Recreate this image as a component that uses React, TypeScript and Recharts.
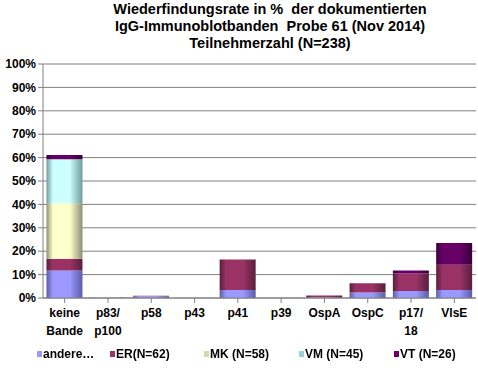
import React from 'react';
import { BarChart, Bar, XAxis, YAxis, CartesianGrid, Legend } from 'recharts';

const categories = ['keine\nBande', 'p83/\np100', 'p58', 'p43', 'p41', 'p39', 'OspA', 'OspC', 'p17/\n18', 'VlsE'];
const andere = [11.7, 0.2, 0.8, 0.1, 3.4, 0.1, 0.3, 2.4, 3.0, 3.4];
const er = [5.1, 0, 0.2, 0, 13.1, 0, 0.8, 3.9, 7.5, 10.8];
const mk = [23.7, 0, 0, 0, 0, 0, 0, 0, 0, 0];
const vm = [18.8, 0, 0, 0, 0, 0, 0, 0, 0, 0];
const vt = [1.8, 0, 0, 0, 0, 0, 0, 0, 1.2, 9.3];
const yTicks = [0, 10, 20, 30, 40, 50, 60, 70, 80, 90, 100];

const SERIES = [
  { key: 'andere', name: 'andere…', color: '#9999FF', dark: '#5c5ca8', swatch: '#9999FF', w: 73 },
  { key: 'er', name: 'ER(N=62)', color: '#993366', dark: '#5a1e3c', swatch: '#993366', w: 94 },
  { key: 'mk', name: 'MK (N=58)', color: '#FFFFCC', dark: '#8f8f70', swatch: '#d8d8a8', w: 95 },
  { key: 'vm', name: 'VM (N=45)', color: '#CCFFFF', dark: '#6f9b9b', swatch: '#9cd0d0', w: 95 },
  { key: 'vt', name: 'VT (N=26)', color: '#660066', dark: '#3a003a', swatch: '#660066', w: 80 },
];

const data = categories.map((c, i) => ({
  name: c,
  andere: andere[i],
  er: er[i],
  mk: mk[i],
  vm: vm[i],
  vt: vt[i],
}));

const FONT = '"Liberation Sans", Arial, sans-serif';

const XTick = (props: any) => {
  const { x, y, payload } = props;
  const lines = String(payload.value).split('\n');
  return (
    <text x={x} y={y + 12} textAnchor="middle" style={{ fontFamily: FONT }} fontSize={12} fontWeight="bold" fill="#000">
      {lines.map((l: string, i: number) => (
        <tspan key={i} x={x} dy={i === 0 ? 0 : 18}>{l}</tspan>
      ))}
    </text>
  );
};

const LegendContent = () => (
  <div style={{ display: 'flex', fontFamily: FONT, fontSize: 12, fontWeight: 'bold', paddingLeft: 37 }}>
    {SERIES.map(s => (
      <div key={s.key} style={{ width: s.w, display: 'flex', alignItems: 'center', whiteSpace: 'nowrap' }}>
        <span style={{ display: 'inline-block', width: 5, height: 6, background: s.swatch, marginRight: 1 }} />
        <span>{s.name}</span>
      </div>
    ))}
  </div>
);

const App: React.FC = () => {
  return (
    <div style={{ position: 'fixed', left: 0, top: 0, width: 478, height: 368, background: '#fff', fontFamily: FONT }}>
      <div style={{ position: 'absolute', left: 0, top: 0, width: 540, textAlign: 'center', fontFamily: FONT, fontWeight: 'bold', fontSize: 14.5, lineHeight: '17px', paddingTop: 1 }}>
        Wiederfindungsrate in %&nbsp; der dokumentierten<br />
        IgG-Immunoblotbanden&nbsp; Probe 61 (Nov 2014)<br />
        Teilnehmerzahl (N=238)
      </div>
      <BarChart width={478} height={368} data={data} margin={{ top: 64, right: 2, left: 0, bottom: 0 }} barCategoryGap="8%" style={{ fontFamily: FONT }}>
        <defs>
          {SERIES.map(s => (
            <linearGradient key={s.key} id={`g-${s.key}`} x1="0" y1="0" x2="1" y2="0">
              <stop offset="0%" stopColor={s.dark} />
              <stop offset="18%" stopColor={s.color} />
              <stop offset="65%" stopColor={s.color} />
              <stop offset="100%" stopColor={s.dark} />
            </linearGradient>
          ))}
        </defs>
        <CartesianGrid vertical={false} stroke="#808080" strokeWidth={1} />
        <XAxis
          dataKey="name"
          interval={0}
          tick={<XTick />}
          tickLine={{ stroke: '#808080' }}
          axisLine={{ stroke: '#808080' }}
          tickSize={5}
          height={40}
        />
        <YAxis
          domain={[0, 100]}
          ticks={yTicks}
          interval={0}
          tickFormatter={(v: number) => `${v}%`}
          tick={{ fontFamily: FONT, fontSize: 12, fontWeight: 'bold', fill: '#000' }}
          tickLine={{ stroke: '#808080' }}
          axisLine={{ stroke: '#808080' }}
          tickSize={5}
          width={43}
        />
        <YAxis yAxisId="right" orientation="right" width={0} tick={false} tickLine={false} axisLine={{ stroke: '#808080' }} />
        <Legend
          verticalAlign="bottom"
          height={30}
          content={<LegendContent />}
          wrapperStyle={{ top: 347, bottom: 'auto', left: 0, width: 478 }}
        />
        {SERIES.map(s => (
          <Bar key={s.key} dataKey={s.key} name={s.name} stackId="a" fill={`url(#g-${s.key})`} isAnimationActive={false} />
        ))}
      </BarChart>
    </div>
  );
};

export default App;
